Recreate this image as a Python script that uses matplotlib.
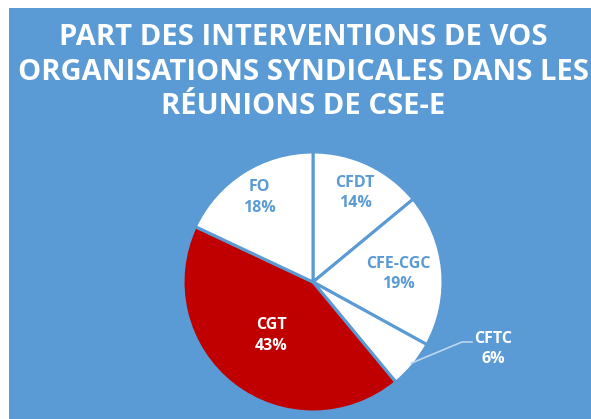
import numpy as np
import matplotlib
matplotlib.use("Agg")
import matplotlib.pyplot as plt
from matplotlib.patches import Rectangle

labels = ["CFDT", "CFE-CGC", "CFTC", "CGT", "FO"]
values = [14, 19, 6, 43, 18]
titleText = "PART DES INTERVENTIONS DE VOS\nORGANISATIONS SYNDICALES DANS LES\nRÉUNIONS DE CSE-E"

blue = "#5B9BD5"
red = "#C00000"
colors = ["white", "white", "white", red, "white"]
textColors = [blue, blue, "white", "white", blue]
labelDist = [0.76, 0.66, None, 0.52, 0.77]

W, H = 591, 419
cx, cy, R = 313, H - 282, 130

fig = plt.figure(figsize=(W / 100, H / 100), dpi=100, facecolor="white")
ax = fig.add_axes([0, 0, 1, 1])
ax.add_patch(Rectangle((9, 0), W - 9, H - 8, facecolor=blue, edgecolor="none", zorder=0))

wedges, _ = ax.pie(values, colors=colors, startangle=90, counterclock=False,
                   center=(cx, cy), radius=R, frame=True,
                   wedgeprops={"edgecolor": blue, "linewidth": 2.2})
for w in wedges:
    w.set_zorder(2)

for w, lab, val, tc, d in zip(wedges, labels, values, textColors, labelDist):
    mid = np.deg2rad((w.theta1 + w.theta2) / 2)
    if d is None:
        # outside label with leader line
        x0, y0 = cx + R * 0.98 * np.cos(mid), cy + R * 0.98 * np.sin(mid)
        tx, ty = 493, H - 349
        ax.plot([x0, 462, 472], [y0, H - 342, H - 342], color="#BDD7EE", lw=1.2, zorder=3)
    else:
        tx, ty = cx + R * d * np.cos(mid), cy + R * d * np.sin(mid)
    ax.text(tx, ty, "{}\n{}%".format(lab, val), color=tc, ha="center", va="center",
            fontsize=11.5, fontweight="bold", family="Open Sans", linespacing=1.35, zorder=4)

ax.text(303, H - 72, titleText, color="white", ha="center", va="center", fontsize=21,
        fontweight="bold", family="Open Sans", linespacing=1.24, zorder=4)

ax.set_xlim(0, W)
ax.set_ylim(0, H)
ax.set_aspect("equal")
ax.axis("off")
plt.savefig("out.png", dpi=100, facecolor="white")
